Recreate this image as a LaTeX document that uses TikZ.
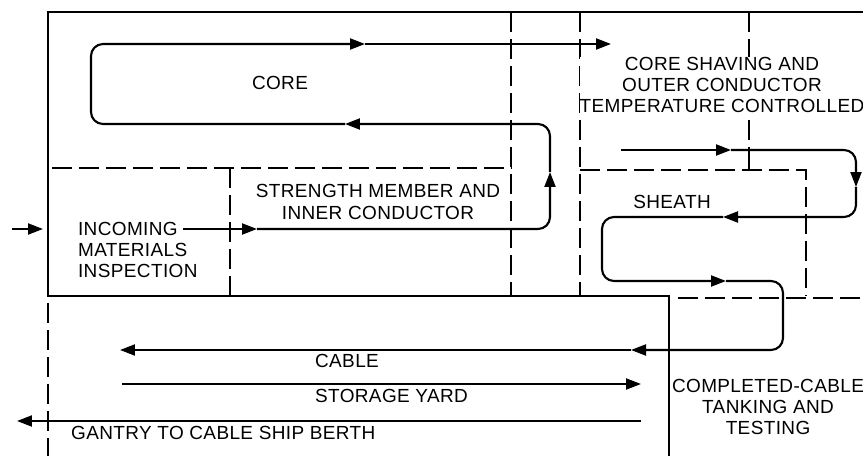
\documentclass[tikz,border=0pt]{standalone}
\usepackage{fontspec}
\setmainfont{Liberation Sans}[LetterSpace=2]
\usetikzlibrary{arrows.meta}

\begin{document}
\begin{tikzpicture}[
        x=0.02cm, y=-0.02cm,
        wall/.style={line width=1.25pt},
        zone/.style={line width=1.1pt, dash pattern=on 0.4cm off 0.14cm},
        flow/.style={line width=1.2pt, rounded corners=0.24cm, -{Triangle[length=0.3cm, width=0.22cm]}},
        label/.style={font=\fontsize{10.8}{12}\selectfont, align=center, inner sep=1pt},
    ]
        \useasboundingbox (0,0) rectangle (863,456);

        % Walls
        \draw[wall] (863,12) -- (48,12) -- (48,296) -- (669,296) -- (669,456);

        % Zone boundaries
        \draw[zone] (52,168) -- (511,168);
        \draw[zone] (230,168) -- (230,296);
        \draw[zone] (511,12) -- (511,296);
        \draw[zone] (580,12) -- (580,296);
        \draw[zone] (749,12) -- (749,147);
        \draw[wall] (749,147) -- (749,170);
        \draw[zone] (580,170) -- (806,170) -- (806,296);
        \draw[zone] (678,298) -- (863,298);
        \draw[zone] (48,303) -- (48,456);

        % Areas
        \node[label] (core) at (280,83) {CORE};
        \node[label] (strength) at (378,202) {STRENGTH MEMBER AND\\INNER CONDUCTOR};
        \node[label, align=left, anchor=west] (incoming) at (76,250) {INCOMING\\MATERIALS\\INSPECTION};
        \node[label, fill=white, inner sep=0pt] (shaving) at (722,85) {CORE SHAVING AND\\OUTER CONDUCTOR\\TEMPERATURE CONTROLLED};
        \node[label] (sheath) at (672,202) {SHEATH};
        \node[label, anchor=west] (cable) at (313,361) {CABLE};
        \node[label, anchor=west] (storage) at (313,396) {STORAGE YARD};
        \node[label, anchor=west] (gantry) at (69,433) {GANTRY TO CABLE SHIP BERTH};
        \node[label] (testing) at (768,407) {COMPLETED-CABLE\\TANKING AND\\TESTING};

        % Incoming materials
        \draw[flow] (12,229) -- (43,229);

        % Core line
        \draw[flow] (183,229) -- (257,229);
        \draw[flow] (257,229) -- (550,229) -- (550,172);
        \draw[flow] (550,172) -- (550,124) -- (345,124);
        \draw[flow] (345,124) -- (91,124) -- (91,44) -- (365,44);
        \draw[flow] (365,44) -- (611,44);

        % Sheath line
        \draw[flow] (621,150) -- (731,150);
        \draw[flow] (731,150) -- (856,150) -- (856,187);
        \draw[flow] (856,187) -- (856,217) -- (723,217);
        \draw[flow] (723,217) -- (602,217) -- (602,281) -- (726,281);
        \draw[flow] (726,281) -- (783,281) -- (783,350) -- (631,350);
        \draw[flow] (631,350) -- (120,350);

        % Storage yard and gantry
        \draw[flow] (122,384) -- (641,384);
        \draw[flow] (641,421) -- (17,421);
    \end{tikzpicture}
\end{document}
